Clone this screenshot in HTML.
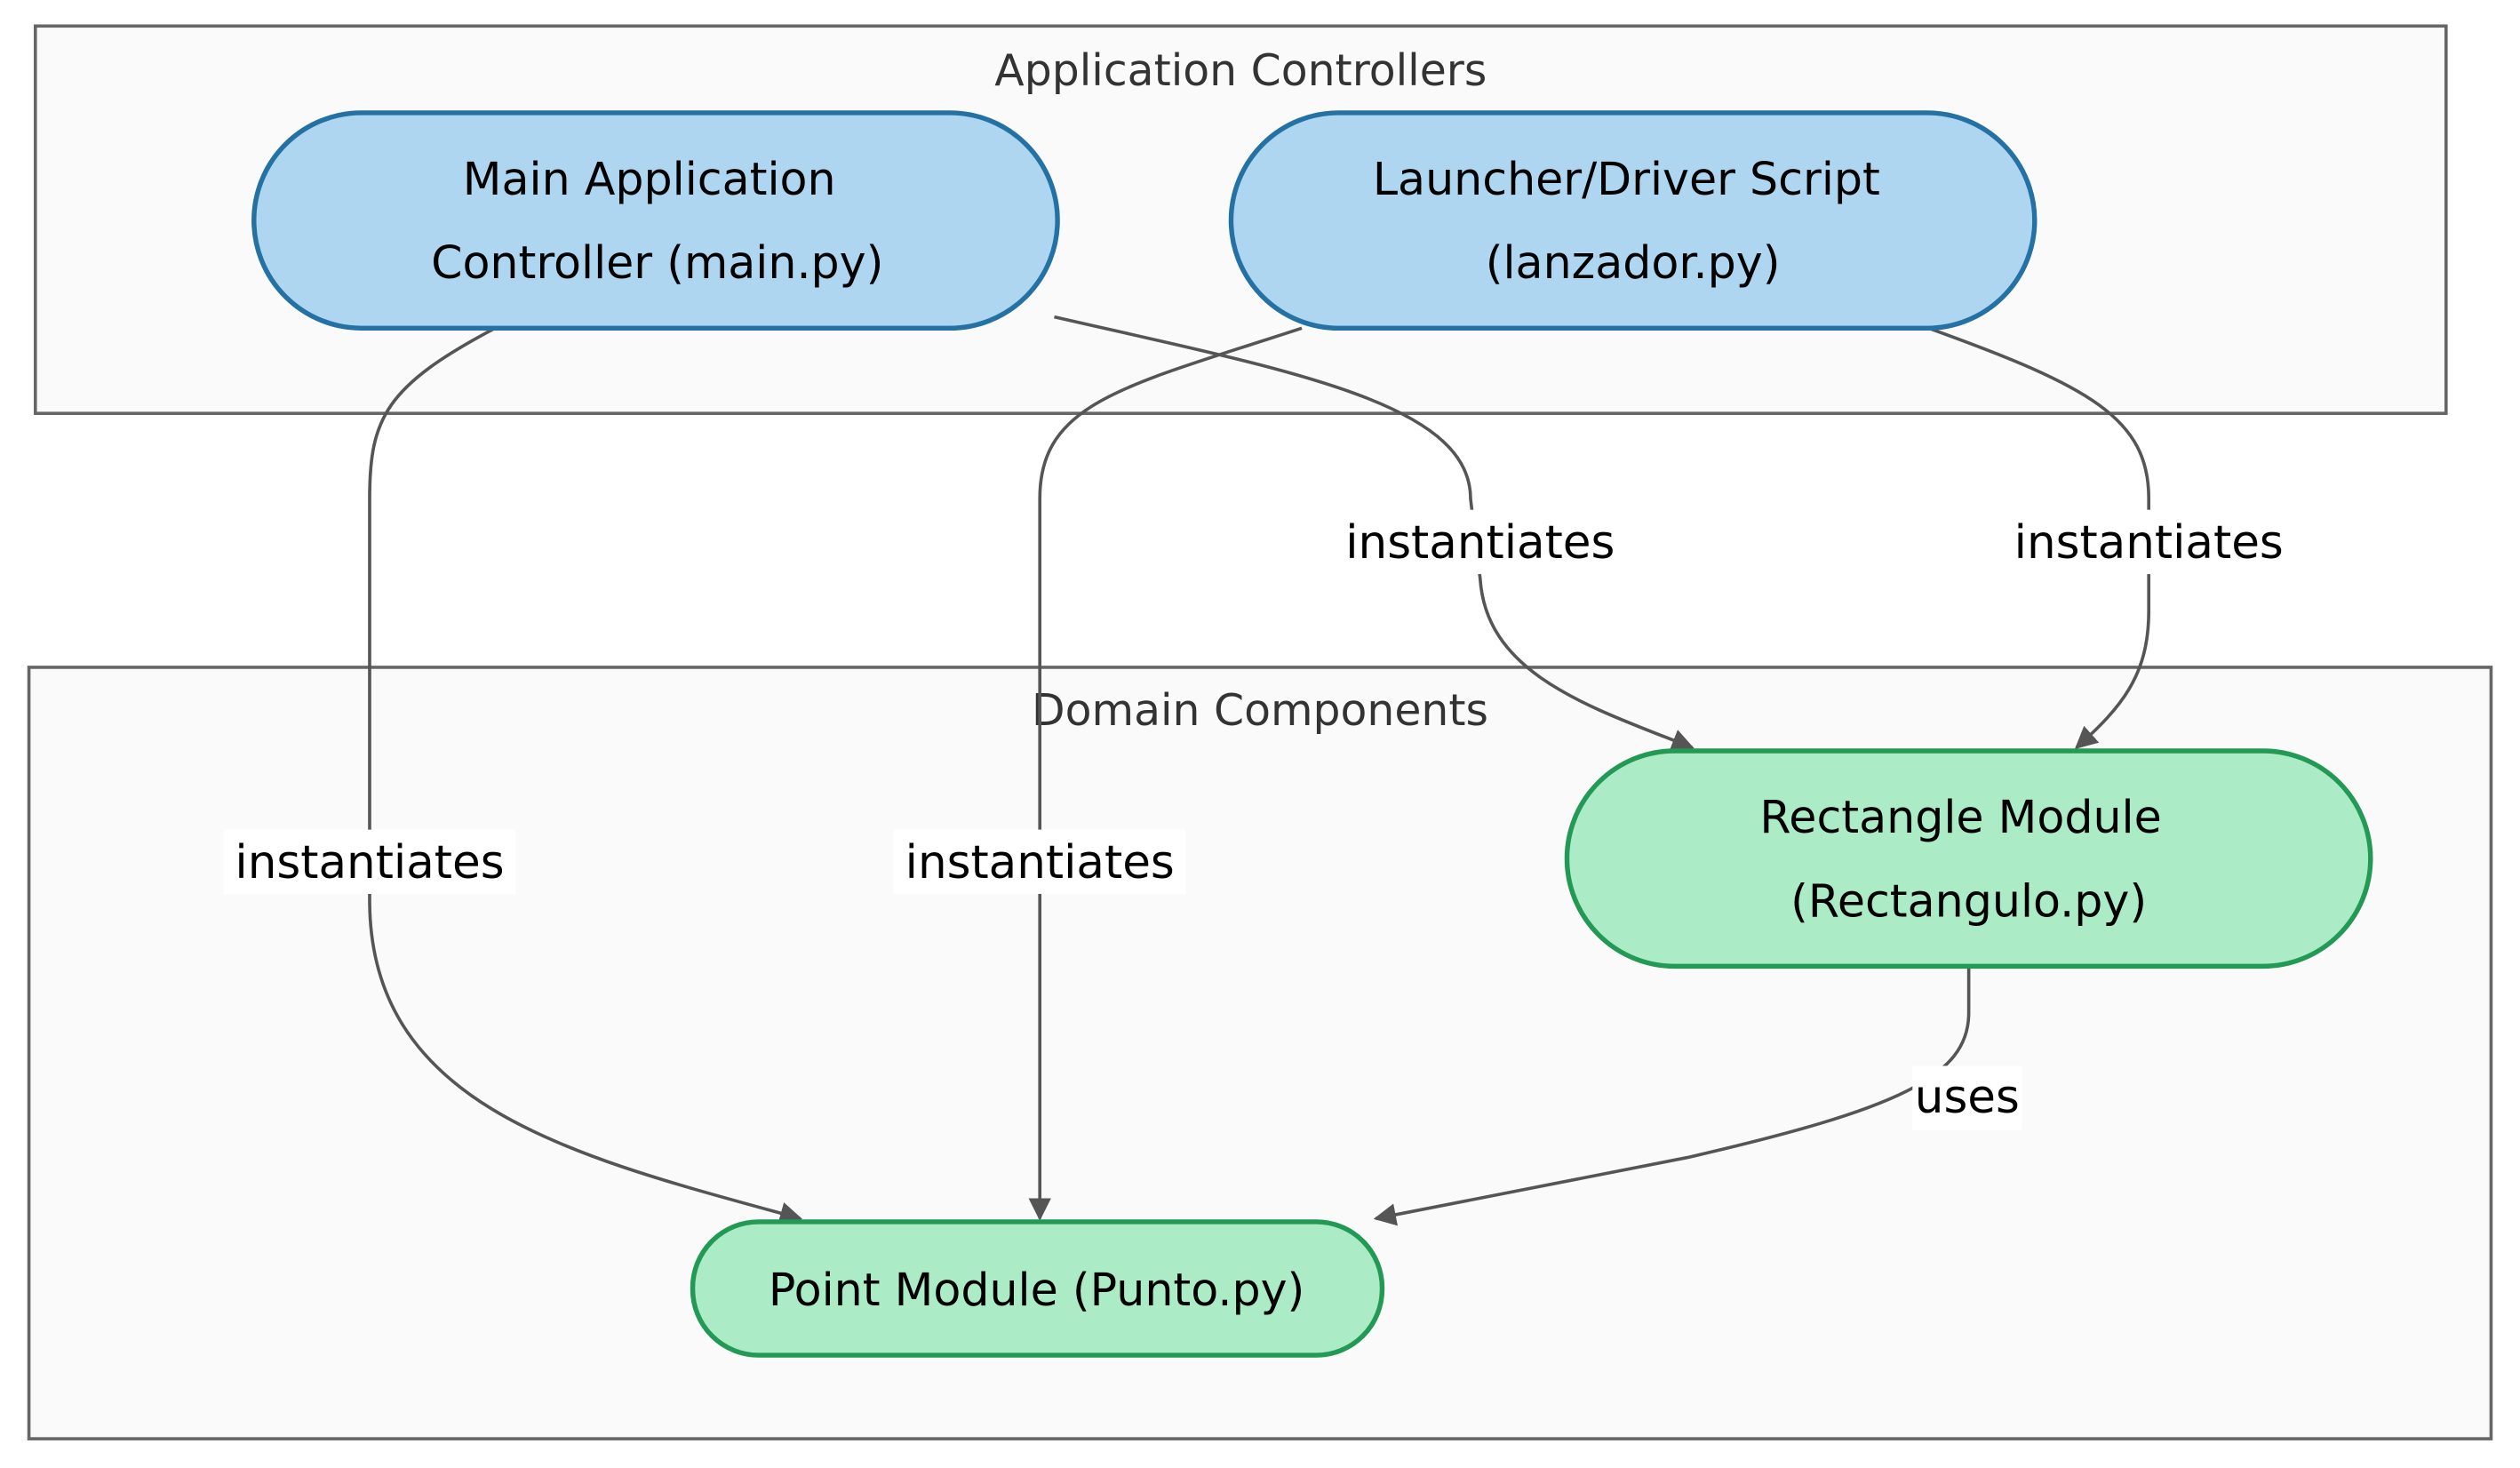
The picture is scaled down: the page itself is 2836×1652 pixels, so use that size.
<!DOCTYPE html>
<html><head><meta charset="utf-8"><style>
html,body{margin:0;padding:0;background:#fff;}
svg{display:block;}
text{font-family:"DejaVu Sans","Liberation Sans",sans-serif;}
</style></head><body>
<svg width="2836" height="1652" viewBox="0 0 1568 913" xmlns="http://www.w3.org/2000/svg">
<defs>
<marker id="a" viewBox="0 0 10 10" refX="9" refY="5" markerWidth="14" markerHeight="14" orient="auto-start-reverse" markerUnits="userSpaceOnUse">
<path d="M0,0 L10,5 L0,10 z" fill="#555"/></marker>
</defs>
<rect x="0" y="0" width="1568" height="913" fill="#fff"/>
<rect x="22" y="16" width="1500" height="241" fill="#fafafa" stroke="#666" stroke-width="2"/>
<text x="772" y="53" font-size="27" fill="#333" text-anchor="middle">Application Controllers</text>
<rect x="18" y="415" width="1532" height="480" fill="#fafafa" stroke="#666" stroke-width="2"/>
<text x="784" y="451" font-size="27" fill="#333" text-anchor="middle">Domain Components</text>

<g fill="none" stroke="#555" stroke-width="2">
<path d="M308,204 C240,240 230,260 230,310 L230,560 C230,690 360,720 498,758" marker-end="url(#a)"/>
<path d="M810,204 C700,240 647,250 647,310 L647,758" marker-end="url(#a)"/>
<path d="M656,197 C800,230 915,250 915,310 L921,360 C925,420 990,440 1053,465" marker-end="url(#a)"/>
<path d="M1200,204 C1300,240 1337,260 1337,310 L1337,380 C1337,420 1320,440 1292,465" marker-end="url(#a)"/>
<path d="M1225,602 L1225,630 C1225,670 1180,690 1050,720 L856,758" marker-end="url(#a)"/>
</g>

<g font-size="28.5" fill="#000" text-anchor="middle">
<rect x="139" y="516" width="182" height="40" fill="#fff"/>
<text x="230" y="546">instantiates</text>
<rect x="556" y="516" width="182" height="40" fill="#fff"/>
<text x="647" y="546">instantiates</text>
<rect x="830" y="317" width="182" height="40" fill="#fff"/>
<text x="921" y="347">instantiates</text>
<rect x="1246" y="317" width="182" height="40" fill="#fff"/>
<text x="1337" y="347">instantiates</text>
<rect x="1190" y="663" width="68" height="40" fill="#fff"/>
<text x="1224" y="692">uses</text>
</g>

<rect x="158" y="70" width="500" height="134" rx="67" fill="#aed6f1" stroke="#2471a3" stroke-width="3"/>
<rect x="766" y="70" width="500" height="134" rx="67" fill="#aed6f1" stroke="#2471a3" stroke-width="3"/>
<rect x="975" y="467" width="500" height="134" rx="67" fill="#abebc6" stroke="#229954" stroke-width="3"/>
<rect x="431" y="760" width="429" height="83" rx="41" fill="#abebc6" stroke="#229954" stroke-width="3"/>

<g font-size="28" fill="#000" text-anchor="middle">
<text x="404" y="121">Main Application</text>
<text x="409" y="173">Controller (main.py)</text>
<text x="1012" y="121">Launcher/Driver Script</text>
<text x="1016" y="173">(lanzador.py)</text>
<text x="1220" y="518">Rectangle Module</text>
<text x="1225" y="570">(Rectangulo.py)</text>
<text x="645" y="812">Point Module (Punto.py)</text>
</g>
</svg>
</body></html>
